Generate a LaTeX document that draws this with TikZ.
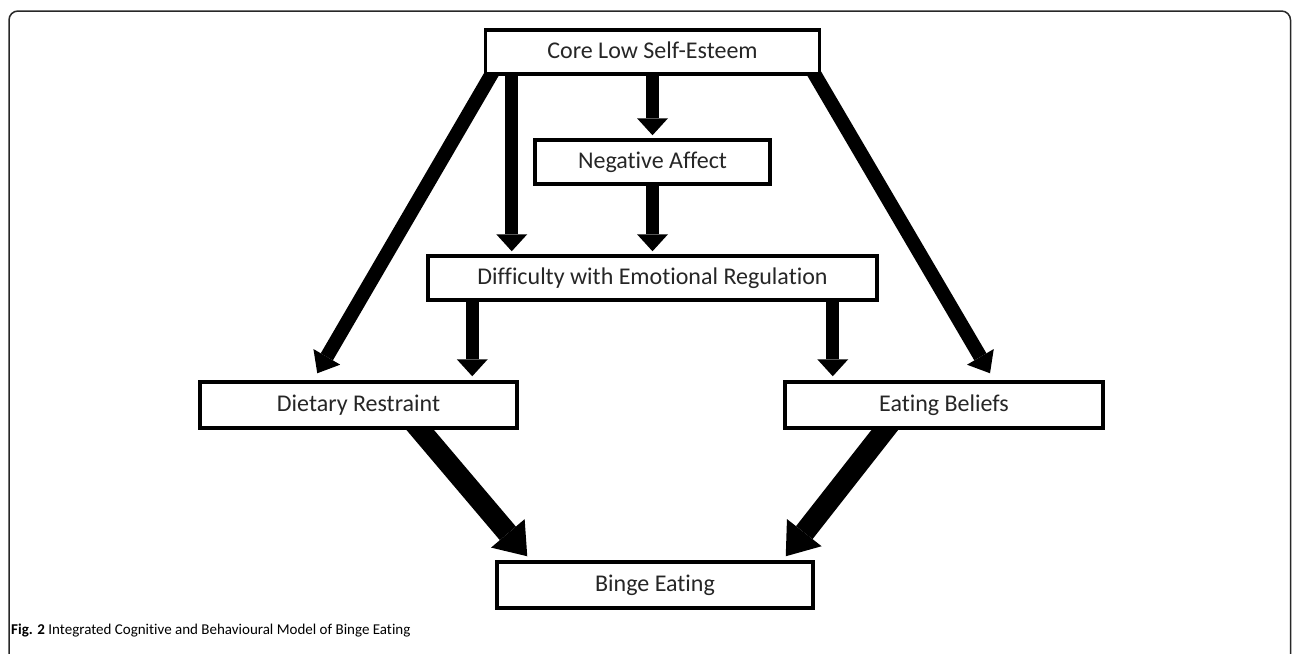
\documentclass[tikz,border=0pt]{standalone}
\usepackage{fontspec}
\setmainfont{Carlito}[Ligatures=CommonOff]
\usetikzlibrary{arrows.meta,calc}
\pgfdeclarelayer{bg}
\pgfsetlayers{bg,main}
\definecolor{txt}{RGB}{38,38,38}
\definecolor{framec}{RGB}{40,40,40}
\tikzset{
  box/.style={draw=black, line width=3.5pt, fill=white, text=txt,
    font=\fontsize{24}{28}\selectfont, text height=17pt, text depth=5pt,
    inner sep=0pt},
  varr/.style={line width=13pt, -{Triangle[length=17pt,width=31pt,line width=0pt]}},
  darr/.style={line width=14pt, -{Triangle[length=19pt,width=31pt,line width=0pt]}},
  barr/.style={line width=21pt, -{Triangle[length=30pt,width=44pt,line width=0pt]}},
}
\begin{document}
\begin{tikzpicture}[x=1pt,y=-1pt]
\useasboundingbox (0,0) rectangle (1292,653);
\begin{scope}
  \clip (0,0) rectangle (1292,653);
  \draw[framec, line width=1.5pt, rounded corners=9pt] (9,11) rectangle (1290.5,720);
\end{scope}

\node[box, minimum width=334pt, minimum height=44pt] (core) at (652.5,52) {Core Low Self-Esteem};
\node[box, minimum width=235pt, minimum height=44pt] (neg) at (652.5,162) {Negative Affect};
\node[box, minimum width=449pt, minimum height=44pt] (diff) at (652.5,278) {Difficulty with Emotional Regulation};
\node[box, minimum width=317pt, minimum height=46pt] (diet) at (358.5,405) {Dietary Restraint};
\node[box, minimum width=318pt, minimum height=46pt] (eat) at (944,405) {Eating Beliefs};
\node[box, minimum width=316pt, minimum height=46pt] (binge) at (655,585) {Binge Eating};

\node[anchor=base west, inner sep=0pt, text=black, font=\fontsize{15}{18}\selectfont] (cap) at (11,634)
  {\textbf{Fig. 2} Integrated Cognitive and Behavioural Model of Binge Eating};

\begin{pgfonlayer}{bg}
  \draw[varr] (core.south) -- ($(neg.north)+(0,-3)$);
  \draw[varr] ($(core.south west)+(28,0)$) -- ($(core.south west |- diff.north)+(28,-3)$);
  \draw[varr] (neg.south) -- ($(diff.north)+(0,-3)$);
  \draw[varr] ($(diff.south west)+(46,0)$) -- ($(diff.south west |- diet.north)+(46,-4)$);
  \draw[varr] ($(diff.south east)+(-46,0)$) -- ($(diff.south east |- eat.north)+(-46,-4)$);
  \draw[darr] ($(core.south west)+(11.5,-8)$) -- ($(diet.north west)+(119,-7)$);
  \draw[darr] ($(core.south east)+(-10.5,-8)$) -- ($(eat.north west)+(206.75,-7)$);
  \draw[barr] ($(diet.south west)+(215,-8)$) -- ($(binge.north west)+(32,-4)$);
  \draw[barr] ($(eat.south west)+(108,-8)$) -- ($(binge.north east)+(-29,-4)$);
\end{pgfonlayer}
\end{tikzpicture}
\end{document}
